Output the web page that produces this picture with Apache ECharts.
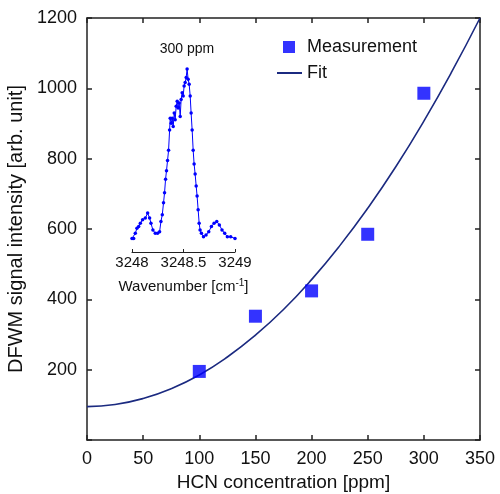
<!DOCTYPE html>
<html>
<head>
<meta charset="utf-8">
<script src="https://cdn.jsdelivr.net/npm/echarts@6/dist/echarts.min.js"></script>
<style>html,body{margin:0;padding:0;background:#fff;}#c{width:500px;height:494px;}</style>
</head>
<body>
<div id="c"></div>
<script>
// Main chart data
const concentration = [100, 150, 200, 250, 300];
const measurement = [195, 352, 424, 585, 986];
const fitX = [0, 25, 50, 75, 100, 125, 150, 175, 200, 225, 250, 275, 300, 325, 350];
const fitY = [95, 101, 118, 146, 185, 236, 298, 371, 456, 552, 659, 777, 907, 1048, 1200];
const xTicks = [0, 50, 100, 150, 200, 250, 300, 350];
const yTicks = [200, 400, 600, 800, 1000, 1200];

// Inset spectrum (300 ppm), normalized intensity
const wavenumber = [3248.000, 3248.016, 3248.032, 3248.048, 3248.065, 3248.081, 3248.103, 3248.129, 3248.152, 3248.171,
  3248.184, 3248.203, 3248.226, 3248.248, 3248.268, 3248.281, 3248.294, 3248.306, 3248.316, 3248.326,
  3248.335, 3248.345, 3248.355, 3248.365, 3248.371, 3248.381, 3248.390, 3248.400, 3248.410, 3248.419,
  3248.429, 3248.439, 3248.448, 3248.458, 3248.468, 3248.477, 3248.487, 3248.497, 3248.506, 3248.516,
  3248.526, 3248.535, 3248.545, 3248.555, 3248.565, 3248.574, 3248.584, 3248.594, 3248.603, 3248.613,
  3248.623, 3248.632, 3248.642, 3248.652, 3248.661, 3248.674, 3248.694, 3248.719, 3248.745, 3248.771,
  3248.797, 3248.823, 3248.848, 3248.874, 3248.900, 3248.926, 3248.958, 3249.000];
const intensity = [0.00, 0.00, 0.03, 0.06, 0.07, 0.09, 0.11, 0.12, 0.15, 0.12,
  0.09, 0.05, 0.03, 0.03, 0.04, 0.10, 0.14, 0.21, 0.27, 0.35,
  0.40, 0.46, 0.52, 0.64, 0.71, 0.68, 0.71, 0.66, 0.74, 0.70,
  0.78, 0.81, 0.77, 0.80, 0.72, 0.82, 0.86, 0.84, 0.90, 0.92,
  0.95, 1.00, 0.94, 0.91, 0.84, 0.74, 0.64, 0.52, 0.44, 0.38,
  0.31, 0.25, 0.17, 0.09, 0.05, 0.03, 0.01, 0.02, 0.04, 0.07,
  0.09, 0.10, 0.08, 0.05, 0.03, 0.01, 0.01, 0.00];
const insetTicks = [3248, 3248.5, 3249];

const FONT = 'Liberation Sans, Arial, sans-serif';
const chart = echarts.init(document.getElementById('c'), null, {renderer: 'canvas'});

function axisLine(w) { return {show: true, onZero: false, lineStyle: {color: '#222', width: w || 1.5}}; }
function tickIn(len, w) { return {show: true, inside: true, length: len, lineStyle: {color: '#222', width: w || 1.5}}; }

chart.setOption({
  animation: false,
  title: {
    text: '300 ppm', left: 182, top: 37, textAlign: 'center',
    textStyle: {fontFamily: FONT, fontSize: 14, fontWeight: 'normal', color: '#111'}
  },
  legend: [{
    data: [{name: 'Measurement', icon: 'rect'}],
    left: 278, top: 33, itemWidth: 12, itemHeight: 12, selectedMode: false,
    textStyle: {fontFamily: FONT, fontSize: 18, color: '#111', padding: [0, 0, 0, 7]}
  }, {
    data: [{name: 'Fit', icon: 'rect'}],
    left: 272, top: 59, itemWidth: 25, itemHeight: 2, selectedMode: false,
    textStyle: {fontFamily: FONT, fontSize: 18, color: '#111'}
  }],
  grid: [
    {left: 87, right: 20, top: 18, bottom: 54, outerBoundsMode: 'none', containLabel: false},
    {left: 132, right: 265, top: 69, bottom: 242, outerBoundsMode: 'none', containLabel: false}
  ],
  xAxis: [{
    type: 'value', gridIndex: 0, min: 0, max: 350, interval: 50,
    name: 'HCN concentration [ppm]', nameLocation: 'middle', nameGap: 31,
    nameTextStyle: {fontFamily: FONT, fontSize: 19, color: '#111'},
    axisLine: axisLine(), axisTick: tickIn(5), splitLine: {show: false},
    axisLabel: {fontFamily: FONT, fontSize: 18, color: '#111', margin: 10,
      formatter: v => xTicks.includes(v) ? String(v) : ''}
  }, {
    type: 'value', gridIndex: 0, min: 0, max: 350, interval: 50, position: 'top',
    axisLine: axisLine(), axisTick: tickIn(5), axisLabel: {show: false}, splitLine: {show: false}
  }, {
    type: 'value', gridIndex: 1, min: 3248, max: 3249, interval: 0.5,
    name: '{n|Wavenumber [cm}{s|-1}{n|]}', nameLocation: 'middle', nameGap: 26,
    nameTextStyle: {fontFamily: FONT, fontSize: 15, color: '#111',
      rich: {n: {fontFamily: FONT, fontSize: 15, color: '#111'}, s: {fontFamily: FONT, fontSize: 10, color: '#111', verticalAlign: 'top', padding: [0, 0, 8, 0]}}},
    axisLine: axisLine(1), axisTick: tickIn(3, 1), splitLine: {show: false},
    axisLabel: {fontFamily: FONT, fontSize: 15, color: '#111', margin: 3,
      formatter: v => { const r = Math.round(v * 10) / 10; return insetTicks.includes(r) ? String(r) : ''; }}
  }],
  yAxis: [{
    type: 'value', gridIndex: 0, min: 0, max: 1200, interval: 200,
    name: 'DFWM signal intensity [arb. unit]', nameLocation: 'middle', nameGap: 58,
    nameTextStyle: {fontFamily: FONT, fontSize: 20, color: '#111'},
    axisLine: axisLine(), axisTick: tickIn(5), splitLine: {show: false},
    axisLabel: {fontFamily: FONT, fontSize: 18, color: '#111', margin: 10,
      formatter: v => yTicks.includes(v) ? String(v) : ''}
  }, {
    type: 'value', gridIndex: 0, min: 0, max: 1200, interval: 200, position: 'right',
    axisLine: axisLine(), axisTick: tickIn(5), axisLabel: {show: false}, splitLine: {show: false}
  }, {
    type: 'value', gridIndex: 1, min: -0.08, max: 1.0, show: false, splitLine: {show: false}
  }],
  series: [{
    name: 'Fit', type: 'line', xAxisIndex: 0, yAxisIndex: 0,
    data: fitX.map((x, i) => [x, fitY[i]]), smooth: true, showSymbol: false, symbol: 'none',
    lineStyle: {color: '#1b2a80', width: 1.6}, itemStyle: {color: '#1b2a80'}, z: 2
  }, {
    name: 'Measurement', type: 'scatter', xAxisIndex: 0, yAxisIndex: 0,
    data: concentration.map((x, i) => [x, measurement[i]]), symbol: 'rect', symbolSize: 13,
    itemStyle: {color: '#0000ff'}, z: 3
  }, {
    name: 'Spectrum', type: 'line', xAxisIndex: 2, yAxisIndex: 2,
    data: wavenumber.map((x, i) => [x, intensity[i]]), symbol: 'circle', symbolSize: 3.5,
    showAllSymbol: true, clip: false,
    lineStyle: {color: '#0000ff', width: 1}, itemStyle: {color: '#0000ff'}
  }]
});
</script>
</body>
</html>
